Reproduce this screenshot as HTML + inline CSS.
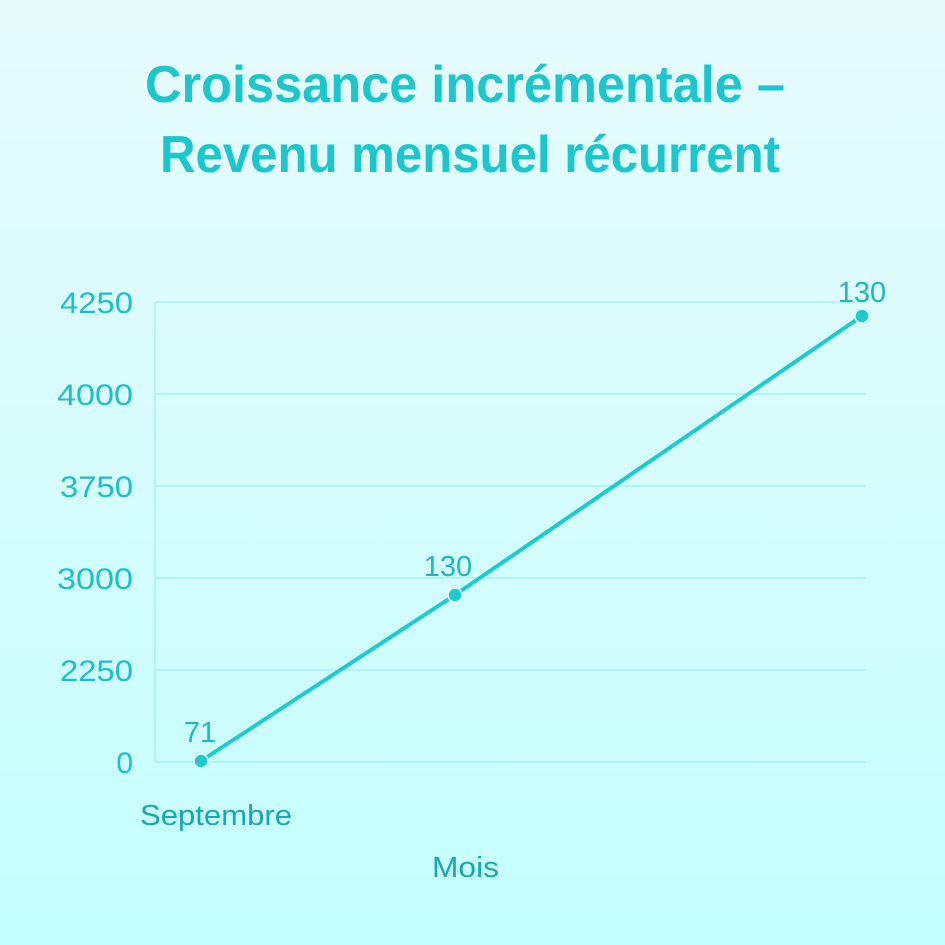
<!DOCTYPE html>
<html><head><meta charset="utf-8"><style>
html,body{margin:0;padding:0}
body{width:945px;height:945px;background:linear-gradient(#e8fbfb,#c4fefe);font-family:"Liberation Sans",sans-serif;overflow:hidden}
</style></head><body>
<svg width="945" height="945" xmlns="http://www.w3.org/2000/svg" style="position:absolute;left:0;top:0">
<g font-family="Liberation Sans, sans-serif" fill="#1cc6cd" font-weight="bold" font-size="52">
<text x="145" y="102" textLength="640" lengthAdjust="spacingAndGlyphs">Croissance incrémentale –</text>
<text x="160" y="172" textLength="620" lengthAdjust="spacingAndGlyphs">Revenu mensuel récurrent</text>
</g>
<g stroke="#a8f0f3" stroke-width="1.5">
<line x1="155" y1="302" x2="866" y2="302"/>
<line x1="155" y1="394" x2="866" y2="394"/>
<line x1="155" y1="486" x2="866" y2="486"/>
<line x1="155" y1="578" x2="866" y2="578"/>
<line x1="155" y1="670" x2="866" y2="670"/>
<line x1="155" y1="762" x2="866" y2="762"/>
<line x1="155" y1="302" x2="155" y2="762"/>
</g>
<g fill="#1cc0c8" font-size="30" text-anchor="end">
<text x="133" y="313" textLength="73" lengthAdjust="spacingAndGlyphs">4250</text>
<text x="133" y="405" textLength="76" lengthAdjust="spacingAndGlyphs">4000</text>
<text x="133" y="497" textLength="73" lengthAdjust="spacingAndGlyphs">3750</text>
<text x="133" y="589" textLength="76" lengthAdjust="spacingAndGlyphs">3000</text>
<text x="133" y="681" textLength="73" lengthAdjust="spacingAndGlyphs">2250</text>
<text x="133" y="773">0</text>
</g>
<polyline points="201,761 455,595 862,316" fill="none" stroke="#1ccbd0" stroke-width="4"/>
<g fill="#1ccbd0" stroke="#e8ffff" stroke-width="1.5">
<circle cx="201" cy="761" r="7"/><circle cx="455" cy="595" r="7"/><circle cx="862" cy="316" r="7"/>
</g>
<g fill="#1cb8c0" font-size="29" text-anchor="middle">
<text x="200" y="742">71</text>
<text x="448" y="576">130</text>
<text x="862" y="302">130</text>
</g>
<g fill="#18a8b0" font-size="29">
<text x="140" y="825" textLength="152" lengthAdjust="spacingAndGlyphs">Septembre</text>
<text x="432" y="877" textLength="67" lengthAdjust="spacingAndGlyphs">Mois</text>
</g>
</svg>
</body></html>
